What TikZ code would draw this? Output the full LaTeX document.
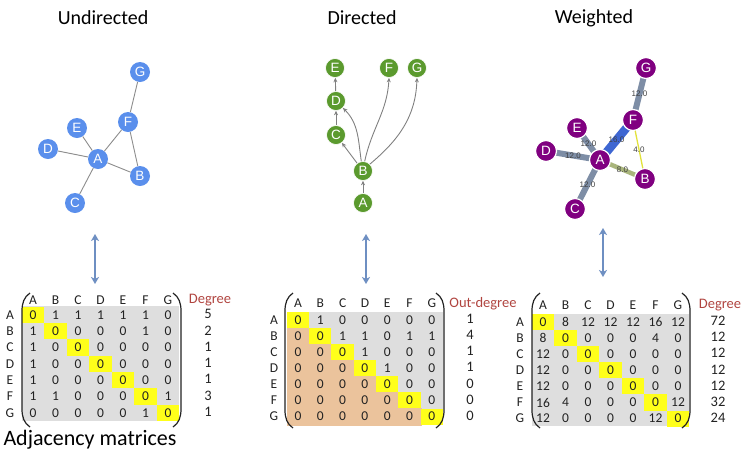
\documentclass[tikz,border=0pt]{standalone}
\usepackage{fontspec}
\setmainfont{Carlito}
\newfontfamily\arialf{Liberation Sans}
\usetikzlibrary{arrows.meta}
\definecolor{ublue}{HTML}{5A8FEC}
\definecolor{dgreen}{HTML}{5B9A2E}
\definecolor{wpurp}{HTML}{800080}
\definecolor{degred}{HTML}{B0443F}
\definecolor{mgray}{HTML}{DEDEDE}
\definecolor{mtan}{HTML}{EBC39C}
\definecolor{myel}{HTML}{FFFF1A}
\definecolor{arrblue}{HTML}{6E8FC2}
\definecolor{wedge}{HTML}{7E8EA6}
\definecolor{wblue}{HTML}{3E66D2}
\definecolor{wolive}{HTML}{A9B57C}
\definecolor{wyel}{HTML}{E2E23C}
\definecolor{txt}{HTML}{222222}

\newcommand{\DrawMat}[7]{%
  % #1 prefix, #2 x0, #3 y0, #4 dx, #5 dy, #6 rows, #7 tan lower triangle (1/0)
  \foreach \rowvals [count=\i] in {#6} {
    \foreach \v [count=\j] in \rowvals {
      \pgfmathsetmacro\cx{#2+(\j-1)*#4}
      \pgfmathsetmacro\cy{#3+(\i-1)*#5}
      \ifnum\i=\j
        \fill[myel] (\cx-#4/2,\cy-#5/2) rectangle ++(#4,#5);
      \fi
      \ifnum#7=1
        \ifnum\j<\i
          \filldraw[mtan, line width=0.3pt] (\cx-#4/2,\cy-#5/2) rectangle ++(#4,#5);
        \fi
      \fi
      \node[cell] (#1-\i-\j) at (\cx,\cy) {\v};
    }
  }
}
\newcommand{\DrawParens}[4]{%
  % left x, right x, top y, bottom y
  \draw[paren] (#1+8,#3) .. controls (#1+2,#3+4) and (#1,#3+10) .. (#1,#3+18)
     -- (#1,#4-18) .. controls (#1,#4-10) and (#1+2,#4-4) .. (#1+8,#4);
  \draw[paren] (#2-8,#3) .. controls (#2-2,#3+4) and (#2,#3+10) .. (#2,#3+18)
     -- (#2,#4-18) .. controls (#2,#4-10) and (#2-2,#4-4) .. (#2-8,#4);
}

\begin{document}
\begin{tikzpicture}[x=1pt,y=-1pt,
  gnode/.style={circle, minimum size=20pt, inner sep=0pt, text=white,
                font=\arialf\fontsize{13.5}{13.5}\selectfont},
  unode/.style={gnode, fill=ublue},
  dnode/.style={gnode, fill=dgreen, draw=white, line width=0.6pt, minimum size=19pt},
  wnode/.style={gnode, fill=wpurp, draw=white, line width=1.2pt, minimum size=21pt},
  uedge/.style={draw=black!45, line width=0.9pt},
  dedge/.style={draw=black!50, line width=0.9pt, -{Stealth[length=4.5pt,width=4pt]}},
  wgray/.style={draw=wedge, line width=6pt},
  wlab/.style={font=\arialf\fontsize{8}{8}\selectfont, text=black!75, inner sep=0pt},
  cell/.style={font=\fontsize{13.5}{13.5}\selectfont, text=txt, inner sep=0pt},
  lab/.style={font=\fontsize{13.5}{13.5}\selectfont, text=txt, inner sep=0pt},
  deg/.style={font=\fontsize{14.5}{14.5}\selectfont, text=degred, inner sep=0pt},
  degval/.style={font=\fontsize{14.5}{14.5}\selectfont, text=txt, inner sep=0pt},
  title/.style={font=\fontsize{20}{20}\selectfont, text=black, inner sep=0pt},
  paren/.style={draw=txt, line width=1.2pt},
  biarrow/.style={draw=arrblue, line width=1.8pt,
     {Stealth[length=7pt,width=8pt,inset=2pt]}-{Stealth[length=7pt,width=8pt,inset=2pt]}}
]
\useasboundingbox (0,0) rectangle (750,456);

% Titles
\node[title] (t1) at (103,18) {Undirected};
\node[title] (t2) at (362,18) {Directed};
\node[title] (t3) at (594,18) {Weighted};

% ---------- Undirected graph ----------
\node[unode] (uA) at (98,159) {A};
\node[unode] (uB) at (140,176) {B};
\node[unode] (uC) at (75,203) {C};
\node[unode] (uD) at (48,149) {D};
\node[unode] (uE) at (77,128) {E};
\node[unode] (uF) at (128,122) {F};
\node[unode] (uG) at (140,72) {G};
\draw[uedge] (uG) -- (uF);
\draw[uedge] (uF) -- (uA);
\draw[uedge] (uF) -- (uB);
\draw[uedge] (uE) -- (uA);
\draw[uedge] (uD) -- (uA);
\draw[uedge] (uA) -- (uB);
\draw[uedge] (uA) -- (uC);

% ---------- Directed graph ----------
\node[dnode] (dA) at (363,203) {A};
\node[dnode] (dB) at (363,171) {B};
\node[dnode] (dC) at (336,135) {C};
\node[dnode] (dD) at (336,101) {D};
\node[dnode] (dE) at (335,68) {E};
\node[dnode] (dF) at (389,68) {F};
\node[dnode] (dG) at (417,68) {G};
\draw[dedge] (dA) -- (dB);
\draw[dedge] (dB) -- (dC);
\draw[dedge] (dC) -- (dD);
\draw[dedge] (dD) -- (dE);
\draw[dedge] (dB.100) to[out=98,in=-45] (dD.-45);
\draw[dedge] (dB.80) to[out=78,in=-93] (dF.-90);
\draw[dedge] (dB.45) to[out=40,in=-92] (dG.-90);

% ---------- Weighted graph ----------
\coordinate (pA) at (600,160);
\coordinate (pB) at (645,179);
\coordinate (pC) at (575,209);
\coordinate (pD) at (546,151);
\coordinate (pE) at (577,128);
\coordinate (pF) at (633,120);
\coordinate (pG) at (646,68);
\draw[wgray] (pG) -- node[wlab] {12.0} (pF);
\draw[wblue, line width=8.5pt] (pF) -- node[wlab] {16.0} (pA);
\draw[wyel, line width=1.3pt] (pF) -- node[wlab] {4.0} (pB);
\draw[wgray] (pE) -- node[wlab] {12.0} (pA);
\draw[wgray] (pD) -- node[wlab] {12.0} (pA);
\draw[wolive, line width=4.5pt] (pA) -- node[wlab] {8.0} (pB);
\draw[wgray] (pC) -- node[wlab] {12.0} (pA);
\node[wnode] (wA) at (pA) {A};
\node[wnode] (wB) at (pB) {B};
\node[wnode] (wC) at (pC) {C};
\node[wnode] (wD) at (pD) {D};
\node[wnode] (wE) at (pE) {E};
\node[wnode] (wF) at (pF) {F};
\node[wnode] (wG) at (pG) {G};

% ---------- double arrows ----------
\coordinate (a1t) at (95,234);
\coordinate (a1b) at (95,284);
\coordinate (a2t) at (366,234);
\coordinate (a2b) at (366,284);
\coordinate (a3t) at (603,228);
\coordinate (a3b) at (603,277);
\draw[biarrow] (a1t) -- (a1b);
\draw[biarrow] (a2t) -- (a2b);
\draw[biarrow] (a3t) -- (a3b);

% ---------- Matrix 1 (undirected) ----------
\fill[mgray] (22,306) rectangle (179,421);
\DrawMat{m1}{33}{315}{22.5}{16.3}{{0,1,1,1,1,1,0},{1,0,0,0,0,1,0},{1,0,0,0,0,0,0},{1,0,0,0,0,0,0},{1,0,0,0,0,0,0},{1,1,0,0,0,0,1},{0,0,0,0,0,1,0}}{0}
\foreach \L [count=\k] in {A,B,C,D,E,F,G} {
  \node[lab] (m1c\k) at ({33+(\k-1)*22.5},300) {\L};
  \node[lab] (m1r\k) at (10,{315+(\k-1)*16.3}) {\L};
}
\foreach \d [count=\k] in {5,2,1,1,1,3,1} {
  \node[degval] (m1d\k) at (208,{314+(\k-1)*16.3}) {\d};
}
\node[deg] (m1deg) at (210,300) {Degree};
\DrawParens{22}{181}{293}{427}
\node[font=\fontsize{22}{22}\selectfont, text=black, inner sep=0pt] (adj) at (90,440) {Adjacency matrices};

% ---------- Matrix 2 (directed) ----------
\fill[mgray] (287,312) rectangle (443,424);
\DrawMat{m2}{298}{320}{22.3}{16.1}{{0,1,0,0,0,0,0},{0,0,1,1,0,1,1},{0,0,0,1,0,0,0},{0,0,0,0,1,0,0},{0,0,0,0,0,0,0},{0,0,0,0,0,0,0},{0,0,0,0,0,0,0}}{1}
\foreach \L [count=\k] in {A,B,C,D,E,F,G} {
  \node[lab] (m2c\k) at ({298+(\k-1)*22.3},303) {\L};
  \node[lab] (m2r\k) at (274,{320+(\k-1)*16.1}) {\L};
}
\foreach \d [count=\k] in {1,4,1,1,0,0,0} {
  \node[degval] (m2d\k) at (470,{319+(\k-1)*16.1}) {\d};
}
\node[deg] (m2deg) at (483,304) {Out-degree};
\DrawParens{285}{444}{293}{428}

% ---------- Matrix 3 (weighted) ----------
\fill[mgray] (532,314) rectangle (689,426);
\DrawMat{m3}{543}{322}{22.5}{16.1}{{0,8,12,12,12,16,12},{8,0,0,0,0,4,0},{12,0,0,0,0,0,0},{12,0,0,0,0,0,0},{12,0,0,0,0,0,0},{16,4,0,0,0,0,12},{12,0,0,0,0,12,0}}{0}
\foreach \L [count=\k] in {A,B,C,D,E,F,G} {
  \node[lab] (m3c\k) at ({543+(\k-1)*22.5},305) {\L};
  \node[lab] (m3r\k) at (520,{322+(\k-1)*16.1}) {\L};
}
\foreach \d [count=\k] in {72,12,12,12,12,32,24} {
  \node[degval] (m3d\k) at (718,{321+(\k-1)*16.1}) {\d};
}
\node[deg] (m3deg) at (720,305) {Degree};
\DrawParens{532}{690}{293}{428}
\end{tikzpicture}
\end{document}
